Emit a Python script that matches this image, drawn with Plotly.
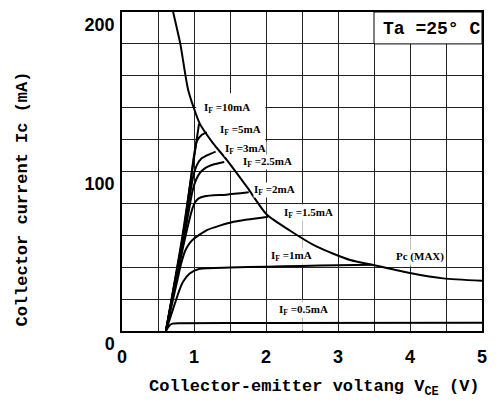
import plotly.graph_objects as go

# ---- data ----
x_tick_vals = [0, 1, 2, 3, 4, 5]
x_tick_text = ["0", "1", "2", "3", "4", "5"]
y_tick_vals = [0, 100, 200]
y_tick_text = ["0", "100", "200"]
x_grid = [0.5 * k for k in range(11)]
y_grid = [20 * k for k in range(11)]

pc_v = [0.71, 0.81, 0.92, 1.08, 1.26, 1.46, 1.74, 2.01, 2.33, 2.7, 3.17, 3.49, 4.0, 4.46, 5.0]
pc_i = [200, 180, 151, 130, 118, 107, 90, 73, 63, 53, 44.5, 41.4, 36.4, 33, 31.5]

if10_v = [0.61, 0.83, 1.07]
if10_i = [0, 57, 130]
if5_v = [0.61, 0.84, 1.0, 1.04, 1.11, 1.18]
if5_i = [0, 57, 110, 119, 123, 124.5]
if3_v = [0.61, 0.85, 0.99, 1.04, 1.1, 1.2, 1.3]
if3_i = [0, 60, 97, 104, 108, 110.5, 112.5]
if25_v = [0.61, 0.86, 0.98, 1.03, 1.08, 1.15, 1.28, 1.42]
if25_i = [0, 58, 88, 95, 99, 102, 104.5, 106]
if2_v = [0.61, 0.87, 0.98, 1.02, 1.06, 1.15, 1.45, 1.76]
if2_i = [0, 57, 77, 81, 83, 84.5, 85.5, 87]
if15_v = [0.61, 0.76, 0.82, 0.875, 0.93, 0.99, 1.18, 1.55, 2.03]
if15_i = [0, 30, 42, 50, 54.5, 57.5, 63.3, 68.5, 71.7]
if1_v = [0.61, 0.74, 0.8, 0.85, 0.94, 1.08, 1.5, 2.0, 2.5, 3.0, 3.47]
if1_i = [0, 18, 26, 31, 36, 39, 39.8, 40.3, 40.8, 41.2, 41.5]
if05_v = [0.61, 0.65, 0.7, 0.8, 2.0, 5.0]
if05_i = [0, 3, 4.6, 4.9, 5.0, 5.2]

curves = [
    (pc_v, pc_i), (if10_v, if10_i), (if5_v, if5_i), (if3_v, if3_i),
    (if25_v, if25_i), (if2_v, if2_i), (if15_v, if15_i), (if1_v, if1_i),
    (if05_v, if05_i),
]

labels = ["I<sub>F</sub> =10mA", "I<sub>F</sub> =5mA", "I<sub>F</sub> =3mA",
          "I<sub>F</sub> =2.5mA", "I<sub>F</sub> =2mA", "I<sub>F</sub> =1.5mA",
          "I<sub>F</sub> =1mA", "I<sub>F</sub> =0.5mA", "Pc (MAX)"]
label_v = [1.12, 1.35, 1.42, 1.66, 1.82, 2.24, 2.06, 2.17, 3.79]
label_i = [140, 126, 114, 106, 88.5, 74, 47, 13, 47]

x_title = "Collector-emitter voltang V<sub>CE</sub> (V)"
y_title = "Collector current Ic (mA)"

fig = go.Figure()
for v, i in curves:
    fig.add_trace(go.Scatter(x=v, y=i, mode="lines",
                             line=dict(color="black", width=2, shape="spline", smoothing=0.6),
                             showlegend=False, hoverinfo="skip"))

label_font = dict(family="Liberation Serif, DejaVu Serif, serif", size=11, color="black",
                  weight="bold")
for t, xv, yv in zip(labels, label_v, label_i):
    fig.add_annotation(x=xv, y=yv, text=t, showarrow=False,
                       xanchor="left", yanchor="middle", font=label_font,
                       bgcolor="white", borderpad=0)

mono = "Liberation Mono, Courier New, monospace"
title_font = dict(family=mono, size=17, color="black", weight="bold")
fig.add_annotation(x=4.3, y=189.5, text="Ta =25° C", showarrow=False,
                   xanchor="center", yanchor="middle",
                   font=dict(family=mono, size=18, color="black", weight="bold"))

# axis titles (placed as in the reference, slightly off-centre)
fig.add_annotation(xref="paper", yref="paper", x=0.536, y=-0.178, text=x_title,
                   showarrow=False, xanchor="center", yanchor="middle", font=title_font)
fig.add_annotation(xref="paper", yref="paper", x=-0.276, y=0.414, text=y_title,
                   showarrow=False, xanchor="center", yanchor="middle", textangle=-90,
                   font=title_font)

# white box behind Ta label and gaps in the grid
shapes = [
    dict(x0=3.5, x1=5.0, y0=180, y1=200, fill="white", line=1),
    dict(x0=1.03, x1=1.99, y0=100.6, y1=149, fill="white", line=0),
    dict(x0=2.49, x1=2.51, y0=40.4, y1=59.6, fill="white", line=0),
    dict(x0=2.49, x1=2.51, y0=60.4, y1=79.6, fill="white", line=0),
    dict(x0=2.49, x1=2.51, y0=0.5, y1=19.6, fill="white", line=0),
    dict(x0=3.99, x1=4.01, y0=40.4, y1=59.6, fill="white", line=0),
]
for s in shapes:
    fig.add_shape(type="rect", xref="x", yref="y", x0=s["x0"], x1=s["x1"],
                  y0=s["y0"], y1=s["y1"], fillcolor=s["fill"],
                  line=dict(color="black", width=s["line"]), layer="between")

tick_font = dict(family="Liberation Sans Narrow, Liberation Sans, Arial", size=18,
                 color="black", weight="bold")
grid_col = "#222222"
fig.update_xaxes(range=[0, 5], tickmode="array", tickvals=x_tick_vals, ticktext=x_tick_text,
                 ticks="", showgrid=False, zeroline=False, automargin=False,
                 showline=True, mirror=True, linecolor="black", linewidth=1.5,
                 tickfont=tick_font, ticklabelstandoff=9,
                 minor=dict(tickmode="array", tickvals=x_grid, showgrid=True,
                            gridcolor=grid_col, gridwidth=1))
fig.update_yaxes(range=[0, 200], tickmode="array", tickvals=y_tick_vals, ticktext=y_tick_text,
                 ticks="", showgrid=False, zeroline=False, automargin=False,
                 showline=True, mirror=True, linecolor="black", linewidth=1.5,
                 tickfont=tick_font, ticklabelstandoff=2,
                 ticklabelposition="outside bottom", ticklabeloverflow="allow",
                 minor=dict(tickmode="array", tickvals=y_grid, showgrid=True,
                            gridcolor=grid_col, gridwidth=1))

# page body has an 8px margin, so the figure is sized/offset to land on the reference's frame
fig.update_layout(width=489, height=395, margin=dict(l=114, r=15, t=4, b=72),
                  plot_bgcolor="white", paper_bgcolor="white", showlegend=False)
fig.write_html("out.html")
